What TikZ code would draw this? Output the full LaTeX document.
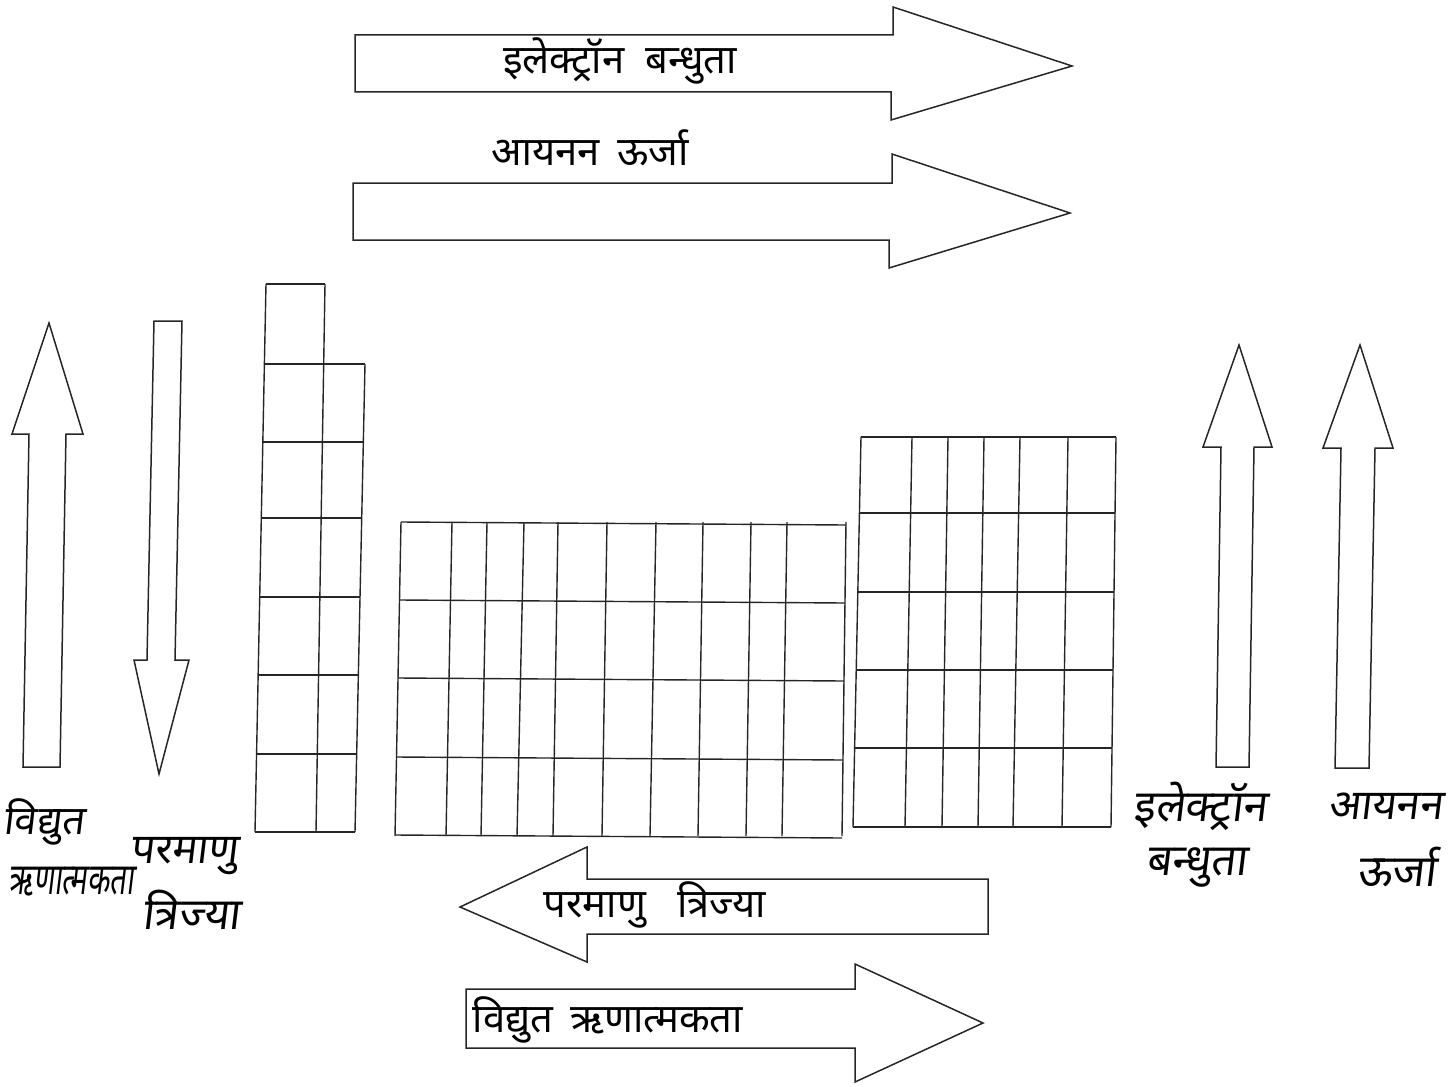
\documentclass[tikz,border=0pt]{standalone}
\usepackage{fontspec}
\newfontfamily\deva[Script=Devanagari]{Noto Sans}
\newfontfamily\devahand[Script=Devanagari,FakeSlant=0.12]{Noto Sans}
\newfontfamily\devahandnarrow[Script=Devanagari,FakeSlant=0.12,FakeStretch=0.66]{Noto Sans}
\begin{document}
\begin{tikzpicture}[x=0.5pt,y=-0.5pt,
  outline/.style={draw=black!85,line width=0.75pt,line join=miter},
  gridline/.style={draw=black!85,line width=0.7pt},
  printed/.style={font=\deva\fontsize{20}{22}\selectfont,inner sep=0pt},
  hand/.style={font=\devahand\fontsize{#1}{#1}\selectfont,inner sep=0pt,anchor=west},
  hand/.default=22,
  handnarrow/.style={font=\devahandnarrow\fontsize{#1}{#1}\selectfont,inner sep=0pt,anchor=west}]
\useasboundingbox (0,0) rectangle (1455,1086);
\clip (0,0) rectangle (1455,1086);

% ---- block arrows: trends across a period ----
\draw[outline] (355,35) -- (893,35) -- (893,7) -- (1072,66) -- (891,120) -- (891,92) -- (355,92) -- cycle;
\node[printed] (eaTop) at (620,61) {इलेक्ट्रॉन \ बन्धुता};

\node[printed] (ieTop) at (590,148) {आयनन \,ऊर्जा};
\draw[outline] (353,183) -- (892,183) -- (892,154) -- (1070,213) -- (889,268) -- (889,240) -- (353,240) -- cycle;

\draw[outline] (988,879) -- (587,879) -- (587,847) -- (460,907) -- (587,962) -- (587,934) -- (988,934) -- cycle;
\node[printed] (arBottom) at (655,905) {परमाणु \ \ त्रिज्या};

\draw[outline] (466,989) -- (855,989) -- (855,964) -- (983,1023) -- (855,1082) -- (855,1048) -- (466,1048) -- cycle;
\node[printed] (enBottom) at (608,1020) {विद्युत \,ऋणात्मकता};

% ---- block arrows: trends down a group ----
\draw[outline] (49,323) -- (83,434) -- (66,434) -- (60,767) -- (23,767) -- (29,434) -- (12,434) -- cycle;
\draw[outline] (154,321) -- (182,321) -- (175,660) -- (189,660) -- (159,774) -- (134,660) -- (147,660) -- cycle;
\draw[outline] (1239,345) -- (1272,447) -- (1254,447) -- (1249,767) -- (1216,767) -- (1221,447) -- (1203,447) -- cycle;
\draw[outline] (1360,345) -- (1393,448) -- (1375,448) -- (1369,768) -- (1335,768) -- (1341,448) -- (1323,448) -- cycle;

% ---- s-block ----
\draw[gridline] (266,284) -- (325,284);
\draw[gridline] (266,284) -- (255,832);
\draw[gridline] (325,284) -- (316,832);
\draw[gridline] (365,364) -- (355,832);
\foreach \y in {364,442,518,597,675,754,832}
  \draw[gridline] ({266-0.02007*(\y-284)},\y) -- ({365-0.02137*(\y-364)},\y);

% ---- d-block ----
\foreach \a/\b in {401/395,452/446,487/481,524/517,558/553,607/602,656/650,703/698,751/746,787/782,846/842}
  \draw[gridline] (\a,522) -- (\b,836);
\foreach \y in {522,600,678,757,835}
  \draw[gridline] ({401-0.01917*(\y-522)},\y) -- ({846-0.01278*(\y-522)},\y+3);

% ---- p-block ----
\foreach \a/\b in {861/853,912/905,948/942,984/978,1020/1013,1068/1062,1116/1111}
  \draw[gridline] (\a,437) -- (\b,827);
\foreach \y in {437,513,592,670,748,827}
  \draw[gridline] ({861-0.02051*(\y-437)},\y) -- ({1116-0.01282*(\y-437)},\y);

% ---- handwritten labels ----
\node[hand=20] (enHand1) at (3,822) {विद्युत};
\node[handnarrow=22] (enHand2) at (8,882) {ऋणात्मकता};
\node[hand=21] (arHand1) at (130,856) {परमाणु};
\node[hand=22] (arHand2) at (142,910) {त्रिज्या};
\node[hand=22] (eaHand1) at (1133,806) {इलेक्ट्रॉन};
\node[hand=22] (eaHand2) at (1146,867) {बन्धुता};
\node[hand=21] (ieHand1) at (1328,806) {आयनन};
\node[hand=22] (ieHand2) at (1357,867) {ऊर्जा};
\end{tikzpicture}
\end{document}
